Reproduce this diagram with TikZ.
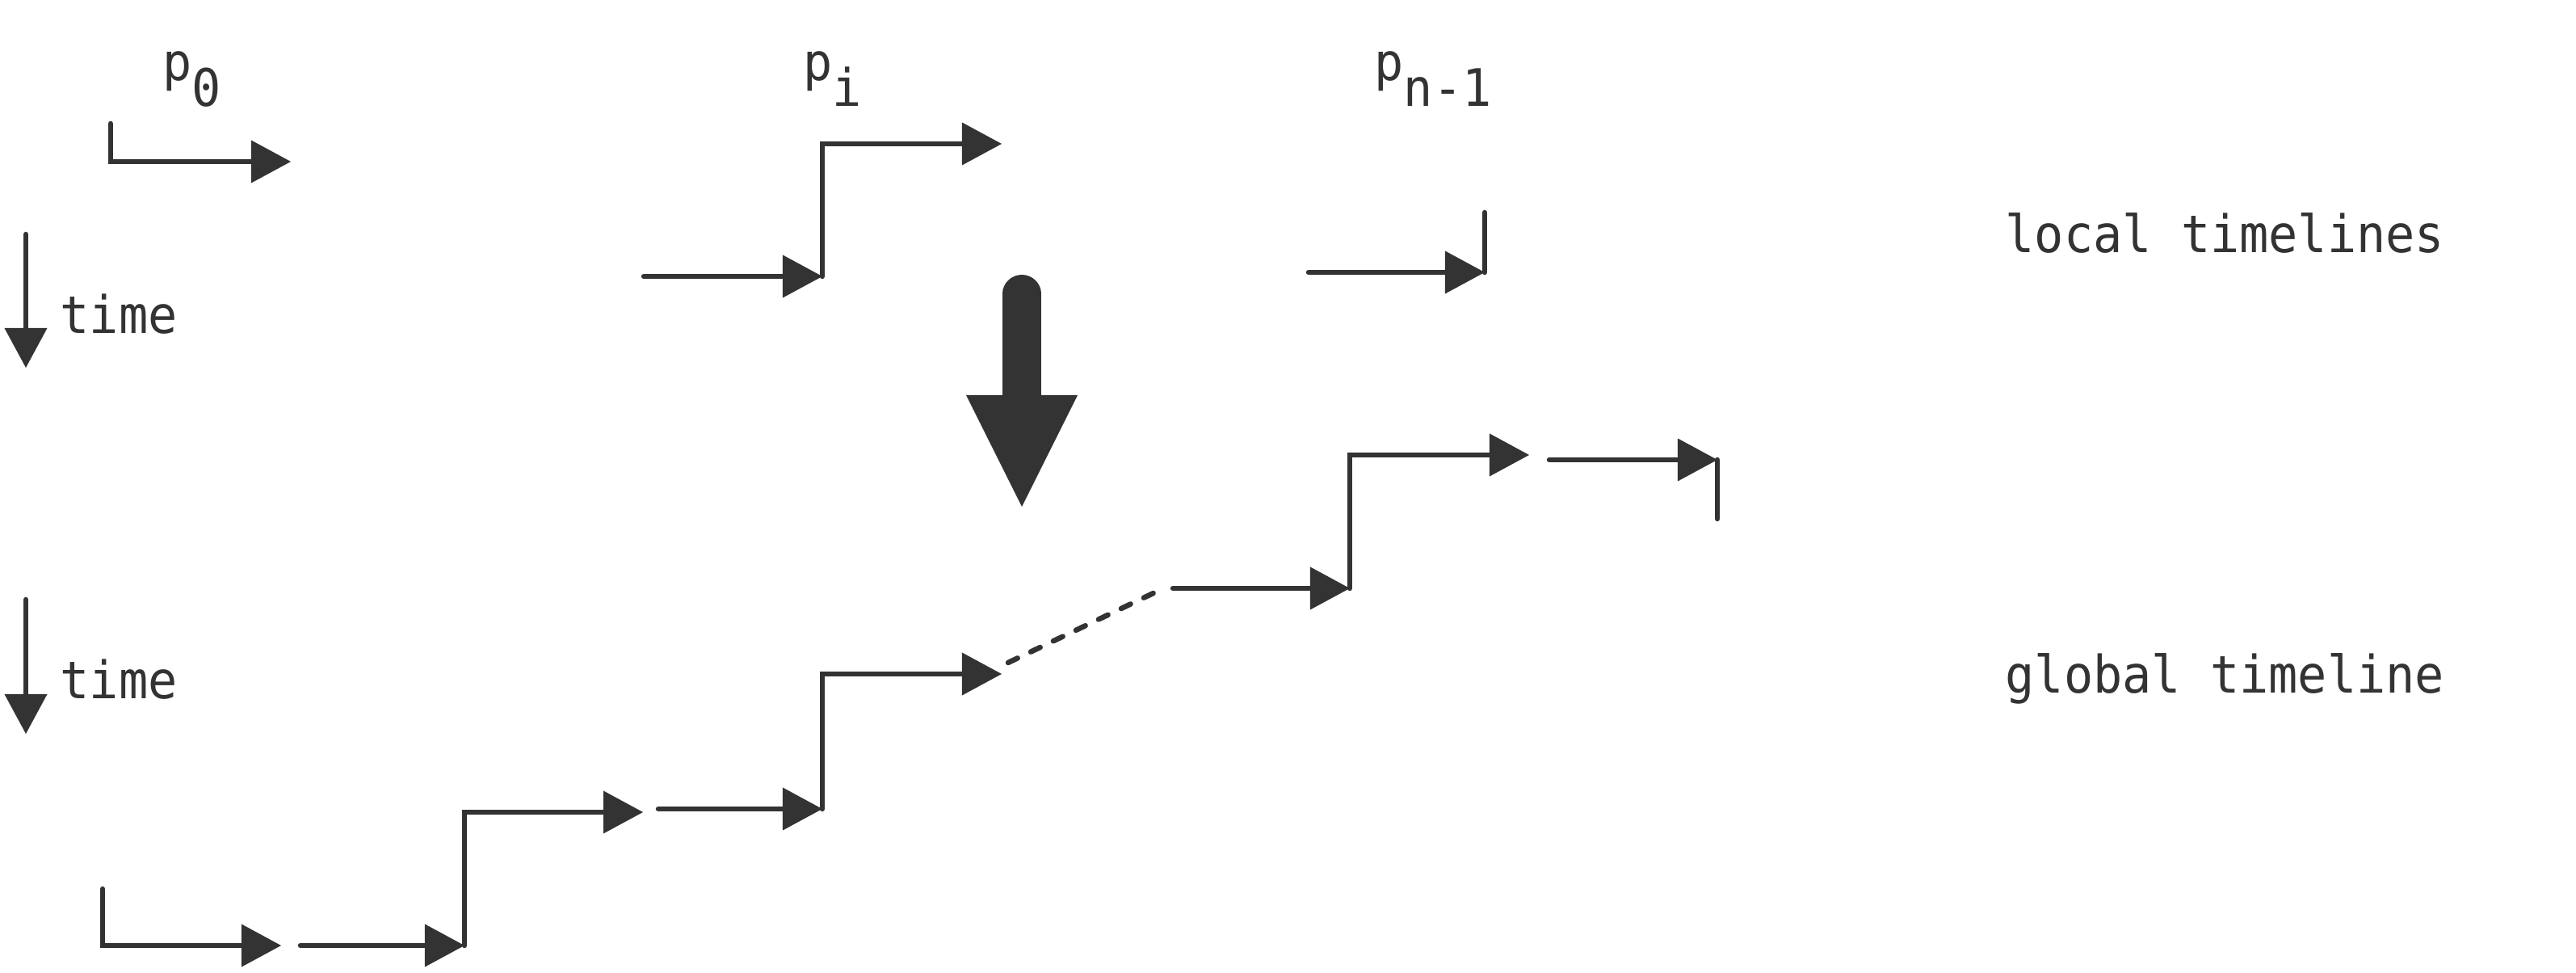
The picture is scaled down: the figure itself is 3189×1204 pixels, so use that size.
\documentclass[tikz,border=0pt]{standalone}
\usepackage{fontspec}
\setmonofont[FakeStretch=0.94]{DejaVu Sans Mono}
\usetikzlibrary{arrows.meta}
\definecolor{ink}{HTML}{333333}
\begin{document}
\begin{tikzpicture}[x=0.01cm,y=-0.01cm,
  line cap=round,
  tl/.style={draw=ink, line width=0.065cm},
  ta/.style={tl, -{Triangle[length=0.49cm,width=0.53cm,line width=0pt]}},
  dsh/.style={tl, dash pattern=on 0.13cm off 0.18cm},
  lbl/.style={font=\fontsize{18.2pt}{21pt}\selectfont\ttfamily, text=ink, inner sep=0pt, anchor=base west}]
\fill[white] (0,0) rectangle (3189,1204);
\useasboundingbox (0,0) rectangle (3189,1204);

% labels
\node[lbl] (p0)  at (201,100)  {p\raisebox{-0.31cm}{0}};
\node[lbl] (pi)  at (994,100)  {p\raisebox{-0.31cm}{i}};
\node[lbl] (pn)  at (1701,100) {p\raisebox{-0.31cm}{n-1}};
\node[lbl] (t1)  at (74,413)   {time};
\node[lbl] (t2)  at (74,865)   {time};
\node[lbl] (loc) at (2482,313) {local timelines};
\node[lbl] (glo) at (2482,858) {global timeline};

% time axes
\coordinate (ta1) at (32,290);  \coordinate (tb1) at (32,455);
\coordinate (ta2) at (32,742);  \coordinate (tb2) at (32,908);
\draw[ta] (ta1) -- (tb1);
\draw[ta] (ta2) -- (tb2);

% local timelines
\coordinate (a0) at (137,153); \coordinate (a1) at (137,200); \coordinate (a2) at (360,200);
\draw[ta] (a0) -- (a1) -- (a2);

\coordinate (b0) at (797,342); \coordinate (b1) at (1018,342);
\coordinate (b2) at (1018,178); \coordinate (b3) at (1240,178);
\draw[ta] (b0) -- (b1);
\draw[ta] (b1) -- (b2) -- (b3);

\coordinate (c0) at (1620,337); \coordinate (c1) at (1838,337); \coordinate (c2) at (1838,263);
\draw[ta] (c0) -- (c1);
\draw[tl] (c1) -- (c2);

% big arrow
\coordinate (m0) at (1265,363.5); \coordinate (m1) at (1265,495);
\draw[ink, line width=0.47cm, line cap=round] (m0) -- (m1);
\fill[ink] (1196,489) -- (1334,489) -- (1265,627) -- cycle;

% global timeline
\coordinate (g0) at (127,1100); \coordinate (g1) at (127,1170); \coordinate (g2) at (348,1170);
\draw[ta] (g0) -- (g1) -- (g2);
\coordinate (g3) at (372,1170); \coordinate (g4) at (575,1170);
\draw[ta] (g3) -- (g4);
\coordinate (g5) at (575,1005); \coordinate (g6) at (796,1005);
\draw[ta] (g4) -- (g5) -- (g6);
\coordinate (g7) at (815,1001); \coordinate (g8) at (1018,1001);
\draw[ta] (g7) -- (g8);
\coordinate (g9) at (1018,834); \coordinate (g10) at (1240,834);
\draw[ta] (g8) -- (g9) -- (g10);
\coordinate (d0) at (1248,820); \coordinate (d1) at (1432,732);
\draw[dsh] (d0) -- (d1);
\coordinate (h0) at (1452,728); \coordinate (h1) at (1671,728);
\draw[ta] (h0) -- (h1);
\coordinate (h2) at (1671,563); \coordinate (h3) at (1893,563);
\draw[ta] (h1) -- (h2) -- (h3);
\coordinate (k0) at (1918,569); \coordinate (k1) at (2126,569); \coordinate (k2) at (2126,642);
\draw[ta] (k0) -- (k1);
\draw[tl] (k1) -- (k2);
\end{tikzpicture}
\end{document}
